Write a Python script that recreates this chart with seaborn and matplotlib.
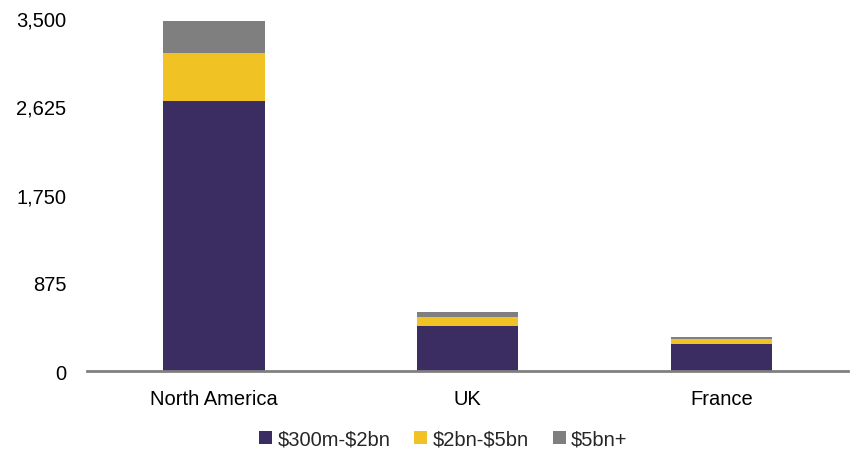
import matplotlib
matplotlib.use("Agg")
import matplotlib.pyplot as plt
import seaborn as sns
import pandas as pd
import numpy as np

regions = ["North America", "UK", "France"]
series = ["$300m-$2bn", "$2bn-$5bn", "$5bn+"]
small = [2675, 444, 269]
mid = [483, 88, 47]
large = [312, 53, 22]
colors = ["#3B2D62", "#F0C224", "#7F7F7F"]
yticks = [0, 875, 1750, 2625, 3500]

sns.set_theme(style="white")
plt.rcParams['font.family'] = ['Liberation Sans', 'DejaVu Sans']
plt.rcParams['text.parse_math'] = False

fig = plt.figure(figsize=(8.55, 4.56), dpi=100)
ax = fig.add_axes([0.102, 0.184, 0.89, 0.774])

vals = np.array([small, mid, large])
cum = np.cumsum(vals, axis=0)
for i in reversed(range(len(series))):
    df = pd.DataFrame({"region": regions, "value": cum[i]})
    sns.barplot(data=df, x="region", y="value", color=colors[i], width=0.4,
                saturation=1, ax=ax, label=series[i], edgecolor="none", linewidth=0)

ax.set_ylim(0, 3500)
ax.set_xlim(-0.5, 2.5)
ax.set_yticks(yticks)
ax.set_yticklabels([f"{t:,}" for t in yticks], fontsize=14.5, color="#000000")
ax.tick_params(axis="x", labelsize=14.5, colors="#000000", pad=7)
ax.tick_params(axis="y", length=0, pad=15)
ax.set_xlabel("")
ax.set_ylabel("")
for s in ["top", "right", "left"]:
    ax.spines[s].set_visible(False)
ax.spines["bottom"].set_color("#808080")
ax.spines["bottom"].set_linewidth(2)

handles, labels = ax.get_legend_handles_labels()
order = [labels.index(s) for s in series]
ax.legend([handles[i] for i in order], [labels[i] for i in order],
          loc="center", bbox_to_anchor=(0.468, -0.193), ncol=3, frameon=False,
          fontsize=14.5, handlelength=0.65, handleheight=0.65, handletextpad=0.25,
          columnspacing=1.2)

fig.savefig("out.png", dpi=100)
